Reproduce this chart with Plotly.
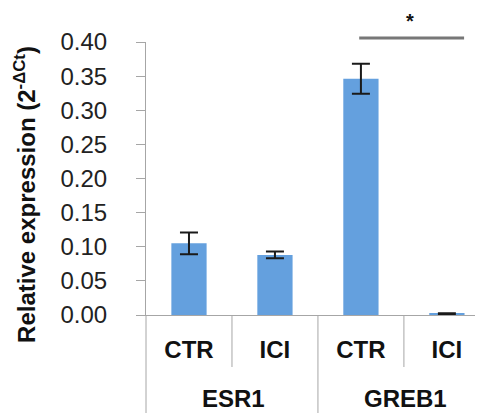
import plotly.graph_objects as go

genes = ["ESR1", "GREB1"]
conditions = ["CTR", "ICI", "CTR", "ICI"]
bar_gene = ["ESR1", "ESR1", "GREB1", "GREB1"]
values = [0.105, 0.088, 0.346, 0.002]
errors = [0.016, 0.005, 0.022, 0.0006]
y_ticks = [0.00, 0.05, 0.10, 0.15, 0.20, 0.25, 0.30, 0.35, 0.40]
sig_level = 0.406
sig_span = [2.0, 3.2]

Y_MAX = 0.40
AXIS_GREY = "#a6a6a6"
FONT = "Liberation Sans, Arial, sans-serif"

categories = [f"{g} {c}" for g, c in zip(bar_gene, conditions)]

W, H = 475, 405
ML, MT, MB = 138, 34, 98
PLOT_H = H - MT - MB

fig = go.Figure()
fig.add_trace(go.Bar(
    x=categories,
    y=values,
    width=0.41,
    marker=dict(color="#64a0de", line=dict(width=0)),
    error_y=dict(type="data", array=errors, visible=True,
                 color="#1a1a1a", thickness=2, width=9),
))

fig.update_layout(
    width=W, height=H,
    margin=dict(l=ML, r=0, t=MT, b=MB, autoexpand=False),
    paper_bgcolor="white", plot_bgcolor="white",
    showlegend=False,
    font=dict(family=FONT, color="#222"),
    xaxis=dict(
        type="category",
        categoryorder="array", categoryarray=categories,
        tickvals=categories, ticktext=conditions,
        range=[-0.5, 3.42],
        showline=True, linecolor=AXIS_GREY, linewidth=1,
        ticks="", ticklabelstandoff=13,
        tickfont=dict(family=FONT, size=24, color="#111", weight="bold"),
        showgrid=False,
    ),
    yaxis=dict(
        range=[0, Y_MAX],
        tickvals=y_ticks,
        tickformat=".2f",
        showline=True, linecolor=AXIS_GREY, linewidth=1,
        ticks="outside", ticklen=9, tickcolor=AXIS_GREY,
        ticklabelstandoff=24,
        tickfont=dict(family=FONT, size=24, color="#222"),
        showgrid=False, zeroline=False,
    ),
)

# y-axis line continues down through the category area
fig.add_shape(type="line", xref="paper", yref="paper", x0=0, x1=0,
              y0=0, y1=-MB / PLOT_H, line=dict(color=AXIS_GREY, width=1))
# short dividers between conditions, long divider between genes
for b in [0.5, 2.5]:
    fig.add_shape(type="line", xref="x", yref="paper", x0=b, x1=b,
                  y0=0, y1=-52 / PLOT_H, line=dict(color=AXIS_GREY, width=1))
fig.add_shape(type="line", xref="x", yref="paper", x0=1.5, x1=1.5,
              y0=0, y1=-MB / PLOT_H, line=dict(color=AXIS_GREY, width=1))

# gene labels
for i, g in enumerate(genes):
    fig.add_annotation(xref="x", yref="paper", x=2 * i + 0.52, y=-83 / PLOT_H,
                       yanchor="middle", text=g, showarrow=False,
                       font=dict(family=FONT, size=24, color="#111", weight="bold"))

# significance bar
fig.add_shape(type="line", xref="x", yref="paper",
              x0=sig_span[0] - 0.02, x1=sig_span[1],
              y0=sig_level / Y_MAX, y1=sig_level / Y_MAX,
              line=dict(color="#777777", width=3))
fig.add_annotation(xref="x", yref="paper", x=(sig_span[0] + sig_span[1]) / 2 - 0.03,
                   y=sig_level / Y_MAX, yanchor="bottom", yshift=4,
                   text="*", showarrow=False,
                   font=dict(family=FONT, size=20, color="#111", weight="bold"))

# y-axis title
fig.add_annotation(xref="paper", yref="paper", x=0, xshift=-121, y=0.44,
                   xanchor="center", yanchor="middle", textangle=-90,
                   text="Relative expression (2<sup>-ΔCt</sup>)", showarrow=False,
                   font=dict(family=FONT, size=24, color="#111", weight="bold"))

fig.write_html("out.html")
